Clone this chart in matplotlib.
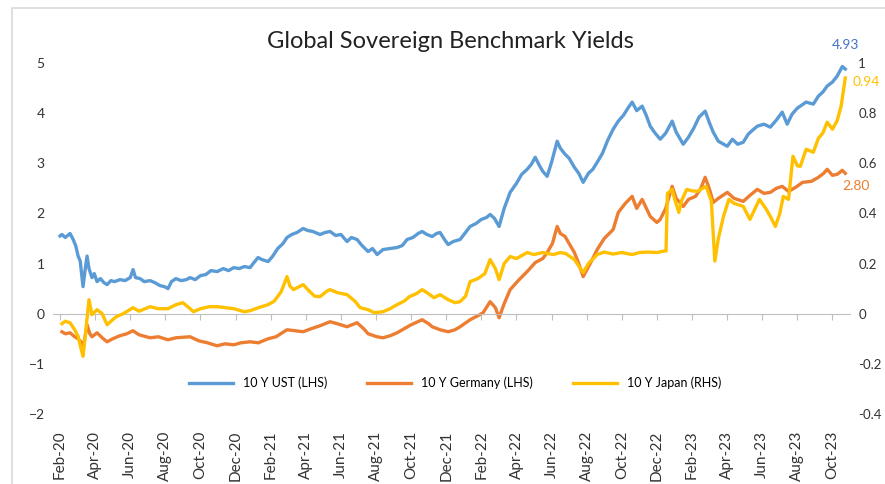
import matplotlib
matplotlib.use("Agg")
import matplotlib.pyplot as plt
from matplotlib.patches import Rectangle

plt.rcParams['font.family'] = ['Lato', 'DejaVu Sans']

# x values are months since 1 Feb 2020
us_t = [0.0, 0.11, 0.3, 0.57, 0.75, 0.9, 1.03, 1.15, 1.31, 1.42, 1.54, 1.65, 1.82, 1.95, 2.11, 2.3, 2.5, 2.68,
        2.9, 3.1, 3.42, 3.7, 4.0, 4.16, 4.3, 4.56, 4.8, 5.13, 5.4, 5.7, 5.95, 6.15, 6.35, 6.6, 6.9, 7.2, 7.41,
        7.7, 8.0, 8.3, 8.6, 8.95, 9.3, 9.6, 9.9, 10.2, 10.5, 10.83, 11.0, 11.28, 11.5, 11.85, 12.1, 12.4, 12.7,
        12.93, 13.2, 13.5, 13.85, 14.1, 14.4, 14.81, 15.1, 15.38, 15.7, 16.0, 16.35, 16.6, 16.92, 17.2, 17.55,
        17.8, 18.06, 18.4, 18.8, 19.2, 19.5, 19.77, 20.1, 20.4, 20.63, 20.9, 21.2, 21.45, 21.65, 21.9, 22.11,
        22.4, 22.79, 23.1, 23.36, 23.7, 24.0, 24.3, 24.5, 24.75, 25.01, 25.3, 25.64, 26.0, 26.3, 26.61, 26.85,
        27.07, 27.3, 27.5, 27.75, 28.0, 28.32, 28.5, 28.77, 29.0, 29.3, 29.55, 29.8, 30.1, 30.35, 30.6, 30.9,
        31.2, 31.51, 31.8, 32.1, 32.35, 32.59, 32.85, 33.16, 33.4, 33.62, 33.9, 34.19, 34.5, 34.87, 35.1, 35.5,
        35.8, 36.1, 36.4, 36.75, 37.0, 37.21, 37.5, 38.01, 38.3, 38.6, 38.92, 39.2, 39.45, 39.72, 40.1, 40.46,
        40.8, 41.14, 41.42, 41.7, 42.0, 42.17, 42.5, 42.91, 43.2, 43.45, 43.7, 44.0, 44.27, 44.56, 44.73]
us_y = [1.55, 1.58, 1.52, 1.60, 1.48, 1.35, 1.15, 1.05, 0.54, 0.85, 1.15, 0.90, 0.72, 0.80, 0.64, 0.70, 0.62, 0.58,
        0.66, 0.64, 0.68, 0.66, 0.72, 0.88, 0.72, 0.70, 0.64, 0.66, 0.62, 0.56, 0.54, 0.50, 0.64, 0.70, 0.66, 0.68,
        0.72, 0.68, 0.76, 0.78, 0.86, 0.84, 0.90, 0.86, 0.92, 0.90, 0.94, 0.92, 1.00, 1.12, 1.08, 1.04, 1.14, 1.30,
        1.40, 1.52, 1.58, 1.62, 1.70, 1.66, 1.64, 1.58, 1.62, 1.64, 1.56, 1.58, 1.44, 1.52, 1.48, 1.36, 1.24, 1.30,
        1.18, 1.28, 1.30, 1.32, 1.36, 1.48, 1.52, 1.60, 1.64, 1.58, 1.54, 1.60, 1.62, 1.48, 1.38, 1.44, 1.48, 1.62,
        1.74, 1.80, 1.88, 1.92, 1.98, 1.90, 1.74, 2.10, 2.42, 2.60, 2.78, 2.88, 2.98, 3.12, 2.96, 2.84, 2.74, 3.02,
        3.44, 3.30, 3.18, 3.10, 2.92, 2.80, 2.62, 2.80, 2.88, 3.02, 3.20, 3.46, 3.68, 3.84, 3.96, 4.10, 4.22, 4.05,
        4.14, 3.95, 3.74, 3.60, 3.48, 3.60, 3.84, 3.62, 3.38, 3.52, 3.70, 3.92, 4.04, 3.80, 3.62, 3.44, 3.34, 3.48,
        3.38, 3.42, 3.58, 3.66, 3.74, 3.78, 3.72, 3.86, 4.02, 3.78, 3.98, 4.10, 4.14, 4.22, 4.18, 4.34, 4.42, 4.54,
        4.62, 4.74, 4.93, 4.88]

de_t = [0.11, 0.3, 0.57, 0.8, 1.03, 1.25, 1.35, 1.54, 1.7, 1.82, 2.11, 2.4, 2.68, 3.0, 3.4, 3.8, 4.16, 4.5, 5.13,
        5.6, 6.15, 6.6, 7.41, 7.9, 8.4, 8.95, 9.4, 9.9, 10.3, 10.83, 11.3, 11.85, 12.3, 12.93, 13.4, 13.85, 14.3,
        14.81, 15.38, 15.8, 16.35, 16.92, 17.3, 17.55, 18.06, 18.4, 18.8, 19.2, 19.6, 20.0, 20.63, 21.0, 21.2,
        21.65, 22.11, 22.5, 22.79, 23.36, 23.8, 24.1, 24.5, 24.8, 25.01, 25.3, 25.64, 26.1, 26.61, 27.07, 27.5,
        27.75, 28.05, 28.32, 28.5, 28.77, 29.0, 29.3, 29.55, 29.8, 30.2, 30.6, 31.0, 31.51, 31.8, 32.2, 32.59,
        32.85, 33.16, 33.62, 34.0, 34.19, 34.5, 34.87, 35.1, 35.5, 35.8, 36.2, 36.5, 36.75, 37.0, 37.21, 37.5,
        38.01, 38.4, 38.92, 39.3, 39.72, 40.1, 40.46, 40.8, 41.14, 41.5, 41.9, 42.3, 42.8, 43.2, 43.5, 43.7,
        44.0, 44.27, 44.56, 44.73]
de_y = [-0.36, -0.40, -0.38, -0.45, -0.50, -0.58, -0.62, -0.22, -0.40, -0.46, -0.38, -0.48, -0.56, -0.50, -0.44,
        -0.40, -0.34, -0.42, -0.48, -0.46, -0.52, -0.48, -0.46, -0.54, -0.58, -0.64, -0.60, -0.62, -0.58, -0.56,
        -0.58, -0.50, -0.46, -0.32, -0.34, -0.36, -0.30, -0.24, -0.16, -0.20, -0.26, -0.18, -0.30, -0.40, -0.46,
        -0.48, -0.44, -0.38, -0.30, -0.22, -0.12, -0.20, -0.26, -0.32, -0.36, -0.32, -0.26, -0.12, -0.04, 0.02,
        0.24, 0.12, -0.08, 0.20, 0.48, 0.66, 0.84, 1.02, 1.10, 1.22, 1.40, 1.74, 1.60, 1.54, 1.40, 1.22, 1.00,
        0.74, 1.00, 1.28, 1.50, 1.68, 2.02, 2.20, 2.34, 2.10, 2.28, 1.94, 1.82, 1.88, 2.10, 2.54, 2.30, 2.14,
        2.28, 2.34, 2.50, 2.72, 2.48, 2.22, 2.30, 2.42, 2.30, 2.24, 2.36, 2.48, 2.40, 2.42, 2.50, 2.54, 2.44,
        2.52, 2.62, 2.64, 2.72, 2.80, 2.88, 2.76, 2.78, 2.86, 2.80]

jp_t = [0.11, 0.3, 0.57, 0.8, 1.03, 1.2, 1.31, 1.42, 1.65, 1.82, 2.11, 2.4, 2.68, 2.9, 3.2, 3.6, 4.16, 4.5, 5.13,
        5.6, 6.15, 6.6, 7.0, 7.41, 7.6, 8.0, 8.5, 8.95, 9.4, 9.9, 10.3, 10.5, 10.83, 11.3, 11.85, 12.2, 12.6,
        12.93, 13.1, 13.3, 13.85, 14.2, 14.5, 14.81, 15.2, 15.38, 15.8, 16.35, 16.8, 17.1, 17.55, 17.9, 18.4,
        18.8, 19.2, 19.6, 19.9, 20.3, 20.63, 20.9, 21.3, 21.65, 22.11, 22.5, 22.79, 23.1, 23.36, 23.8, 24.2,
        24.5, 24.8, 25.01, 25.3, 25.64, 26.0, 26.61, 27.0, 27.5, 28.1, 28.5, 28.8, 29.3, 29.55, 29.8, 30.1,
        30.6, 31.0, 31.5, 32.0, 32.59, 33.0, 33.5, 34.0, 34.4, 34.52, 34.6, 34.87, 35.0, 35.25, 35.4, 35.7,
        36.0, 36.3, 36.6, 36.8, 37.1, 37.3, 37.5, 37.8, 38.1, 38.4, 38.92, 39.3, 39.6, 39.84, 40.2, 40.46,
        40.75, 41.0, 41.2, 41.5, 41.75, 42.0, 42.17, 42.5, 42.91, 43.2, 43.45, 43.7, 44.0, 44.27, 44.5, 44.73]
jp_y = [-0.04, -0.03, -0.036, -0.06, -0.09, -0.14, -0.17, -0.10, 0.056, -0.004, 0.016, 0.0, -0.044, -0.03,
        -0.012, 0.0, 0.024, 0.01, 0.028, 0.02, 0.02, 0.036, 0.044, 0.02, 0.008, 0.02, 0.028, 0.028, 0.024, 0.02,
        0.012, 0.008, 0.012, 0.024, 0.036, 0.05, 0.088, 0.148, 0.11, 0.096, 0.116, 0.09, 0.07, 0.068, 0.09,
        0.096, 0.084, 0.076, 0.05, 0.024, 0.016, 0.004, 0.008, 0.02, 0.036, 0.05, 0.068, 0.08, 0.096, 0.084,
        0.064, 0.076, 0.056, 0.044, 0.048, 0.07, 0.128, 0.14, 0.16, 0.216, 0.18, 0.136, 0.2, 0.228, 0.22, 0.244,
        0.236, 0.244, 0.236, 0.244, 0.24, 0.216, 0.19, 0.164, 0.2, 0.236, 0.246, 0.238, 0.244, 0.236, 0.244,
        0.246, 0.244, 0.25, 0.25, 0.48, 0.496, 0.46, 0.404, 0.45, 0.496, 0.49, 0.488, 0.50, 0.508, 0.45, 0.21,
        0.30, 0.39, 0.456, 0.44, 0.428, 0.376, 0.42, 0.456, 0.42, 0.388, 0.348, 0.40, 0.468, 0.456, 0.628, 0.59,
        0.588, 0.656, 0.644, 0.70, 0.72, 0.764, 0.736, 0.77, 0.83, 0.94]

tick_pos = list(range(0, 45, 2))
tick_labels = ['Feb-20', 'Apr-20', 'Jun-20', 'Aug-20', 'Oct-20', 'Dec-20',
               'Feb-21', 'Apr-21', 'Jun-21', 'Aug-21', 'Oct-21', 'Dec-21',
               'Feb-22', 'Apr-22', 'Jun-22', 'Aug-22', 'Oct-22', 'Dec-22',
               'Feb-23', 'Apr-23', 'Jun-23', 'Aug-23', 'Oct-23']

blue = '#5B9BD5'
orange = '#ED7D31'
yellow = '#FFC000'

fig = plt.figure(figsize=(8.85, 4.84), dpi=100)
fig.patches.append(Rectangle((12 / 885, -0.05), 1.0, 1 - 8 / 484 + 0.05, transform=fig.transFigure,
                             fill=False, edgecolor='#D9D9D9', lw=1.2))
ax = fig.add_axes([53 / 885, 1 - 414 / 484, 797 / 885, 351 / 484])
ax2 = ax.twinx()

ax.plot(us_t, us_y, color=blue, lw=2.4, label='10 Y UST (LHS)')
ax.plot(de_t, de_y, color=orange, lw=2.4, label='10 Y Germany (LHS)')
ax2.plot(jp_t, jp_y, color=yellow, lw=2.4, label='10 Y Japan (RHS)')

ax.set_xlim(-0.4, 45.0)
ax.set_ylim(-2, 5)
ax2.set_ylim(-0.4, 1)

ax.set_yticks(range(-2, 6))
ax.tick_params(axis='y', length=0, pad=6, labelsize=10, labelcolor='#333333')
ax2.set_yticks([-0.4, -0.2, 0, 0.2, 0.4, 0.6, 0.8, 1.0])
ax2.set_yticklabels(['-0.4', '-0.2', '0', '0.2', '0.4', '0.6', '0.8', '1'])
ax2.tick_params(axis='y', length=0, pad=6, labelsize=9.5, labelcolor='#333333')

for s in ['top', 'left', 'right']:
    ax.spines[s].set_visible(False)
for s in ax2.spines:
    ax2.spines[s].set_visible(False)
ax.spines['bottom'].set_position(('data', 0))
ax.spines['bottom'].set_color('#BFBFBF')
ax.set_xticks(tick_pos)
ax.tick_params(axis='x', labelbottom=False, length=4, color='#BFBFBF', direction='out')

sec = ax.secondary_xaxis(0)
sec.set_xticks(tick_pos)
sec.set_xticklabels(tick_labels, rotation=90, va='top', ha='center')
sec.tick_params(length=0, pad=12, labelsize=11, labelcolor='#333333')
sec.spines['bottom'].set_visible(False)

ax.annotate('4.93', (us_t[-2], us_y[-2]), xytext=(2, 11), textcoords='offset points',
            ha='center', va='bottom', color='#4472C4', fontsize=10)
ax2.annotate('0.94', (jp_t[-1], jp_y[-1]), xytext=(15, -3), textcoords='offset points',
             ha='center', va='center', color=yellow, fontsize=10)
ax.annotate('2.80', (de_t[-1], de_y[-1]), xytext=(8, -9), textcoords='offset points',
            ha='center', va='center', color=orange, fontsize=10)

fig.text(450 / 885, 1 - 42 / 484, 'Global Sovereign Benchmark Yields', ha='center', va='center',
         fontsize=17, color='#222222')

h1, l1 = ax.get_legend_handles_labels()
h2, l2 = ax2.get_legend_handles_labels()
fig.legend(h1 + h2, l1 + l2, loc='center', bbox_to_anchor=(455 / 885, 1 - 383 / 484), ncol=3,
           frameon=False, fontsize=9, handlelength=3.5, columnspacing=3.2)

fig.savefig('out.png', dpi=100)
